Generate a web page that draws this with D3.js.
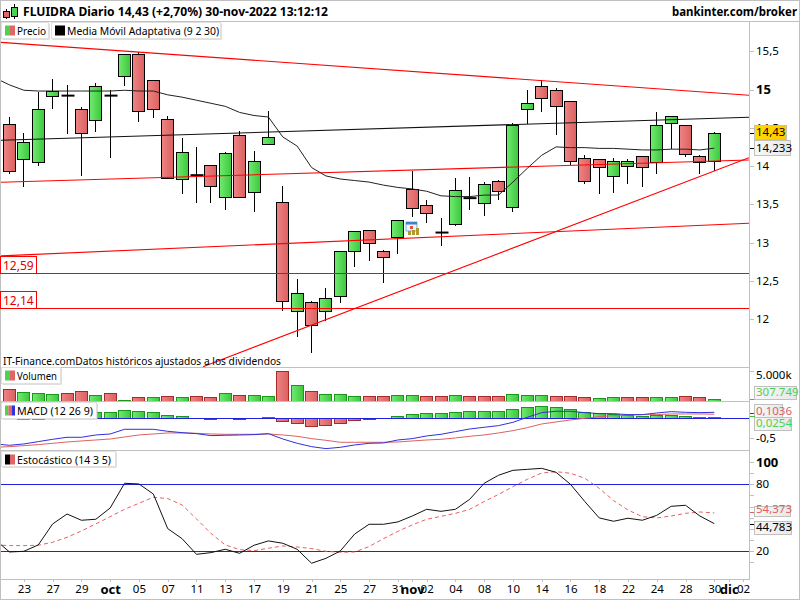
<!DOCTYPE html>
<html>
<head>
<meta charset="utf-8">
<script src="https://cdn.jsdelivr.net/npm/d3@7"></script>
<style>
  body { margin: 0; background: #fff; }
  text { font-family: "Noto Sans", "DejaVu Sans", sans-serif; font-size: 12px; fill: #000; }
  .axis path, .axis line { stroke: #c0c0c0; }
  .axis .domain { display: none; }
</style>
</head>
<body>
<div id="chart"></div>
<script>
// daily candles, one entry per session (22-sep to 30-nov)
const candleOpen = [14.55,14.09,14.06,14.92,14.92,14.75,14.60,14.92,15.17,15.47,15.13,14.61,13.83,13.88,14.01,13.60,14.40,13.66,14.29,13.53,12.10,12.22,12.10,12.30,12.89,13.16,12.89,13.08,13.70,13.49,13.13,13.24,13.58,13.51,13.80,13.46,14.75,15.05,14.99,14.85,14.10,14.09,13.87,14.00,14.13,14.05,14.57,14.53,14.13,14.06];
const candleHigh = [14.64,14.43,14.97,15.14,15.06,14.77,15.08,14.99,15.47,15.49,15.13,14.66,14.36,14.25,14.01,14.18,14.46,14.20,14.72,13.74,12.52,12.24,12.41,12.89,13.15,13.16,12.90,13.30,13.94,13.55,13.32,13.84,13.86,13.79,13.82,14.56,14.99,15.12,15.02,14.85,14.15,14.09,14.11,14.09,14.13,14.70,14.66,14.53,14.14,14.44];
const candleLow = [13.90,13.73,14.00,14.75,14.42,13.87,14.45,14.10,15.05,14.57,14.63,13.84,13.64,13.52,13.52,13.42,13.59,13.40,14.28,12.11,11.76,11.56,11.98,12.21,12.68,12.76,12.47,12.85,13.33,13.26,12.95,13.21,13.43,13.34,13.55,13.40,14.55,14.71,14.41,14.01,13.76,13.64,13.65,13.77,13.72,13.90,14.22,14.12,13.89,13.94];
const candleClose = [13.93,14.31,14.75,14.98,14.92,14.43,15.04,14.92,15.46,14.73,14.75,13.84,14.18,13.88,13.73,14.17,13.59,14.07,14.38,12.24,12.34,11.92,12.27,12.89,13.15,12.99,12.81,13.30,13.45,13.38,13.13,13.68,13.58,13.76,13.67,14.53,14.83,14.89,14.78,14.06,13.80,13.98,14.07,14.06,13.98,14.53,14.66,14.15,14.05,14.43];

// these start one session earlier, just off the left edge
const amaLine = [15.15,15.06,14.99,14.98,14.98,14.98,14.98,14.98,14.98,14.99,14.98,14.98,14.93,14.90,14.86,14.82,14.78,14.70,14.66,14.64,14.38,14.26,13.98,13.87,13.83,13.81,13.79,13.75,13.72,13.70,13.67,13.61,13.60,13.60,13.62,13.62,13.79,13.97,14.14,14.25,14.24,14.24,14.23,14.23,14.22,14.21,14.21,14.22,14.22,14.21,14.233];
const macdLine = [-.651,-.685,-.651,-.592,-.533,-.482,-.482,-.423,-.398,-.279,-.279,-.279,-.330,-.364,-.389,-.440,-.431,-.423,-.415,-.389,-.525,-.635,-.719,-.770,-.736,-.677,-.635,-.626,-.550,-.516,-.448,-.406,-.338,-.271,-.228,-.186,-.102,.025,.144,.178,.178,.144,.118,.118,.093,.093,.135,.169,.152,.144,.152];
const macdSignal = [-.736,-.719,-.694,-.668,-.635,-.601,-.575,-.550,-.525,-.474,-.423,-.398,-.372,-.372,-.381,-.398,-.406,-.406,-.406,-.398,-.423,-.457,-.516,-.558,-.609,-.609,-.609,-.609,-.601,-.575,-.550,-.533,-.499,-.457,-.423,-.372,-.313,-.237,-.144,-.093,-.042,0,.042,.068,.085,.093,.093,.110,.110,.110,.1036];
const stochK = [30.4,19.4,20.0,25.7,44.5,53.4,47.8,48.7,58.8,80.9,80.3,71.3,40.3,31.3,17.3,18.8,21.8,18.2,25.4,29.3,27.2,21.8,9.3,13.7,20.3,35.5,44.2,44.2,46.3,51.6,57.6,55.8,57.6,66.6,80.9,88.1,92.5,93.4,94.3,90.7,80,64.5,49.9,46.9,49.6,47.8,52.2,60.3,61.2,51.6,44.783];
const stochD = [25.7,25.1,25.1,25.4,28.1,32.5,38.2,44.5,51,57.6,63,68.4,67.2,61.5,49,36.1,25.7,21.5,20.6,22.7,24.8,23.9,22.4,20,19.1,19.4,24.2,31.3,37.9,43.6,48.7,51.3,54,57.6,64.5,71,77.9,84.5,90.1,91.3,89.9,85.4,76.4,65.4,57,51,49.9,51.6,54,55.2,54.373];

const volume = [1980,1485,1320,1155,1320,1650,990,1320,165,660,660,825,660,825,660,1320,990,990,825,4950,2640,1650,1155,1155,825,825,825,990,990,825,825,990,825,825,825,1155,990,990,825,825,660,495,660,660,660,660,660,825,660,307.749];
const volumeUp = [0,1,1,1,0,0,1,0,1,0,1,0,1,0,0,1,0,1,1,0,1,0,1,1,1,0,0,1,1,0,0,1,0,0,0,1,1,1,0,0,0,1,1,0,0,1,1,0,0,1];
const macdHist = [.10,.12,.14,.15,.16,.16,.15,.152,.203,.178,.152,.076,.051,.005,-.034,.005,-.034,.005,.025,-.085,-.127,-.212,-.186,-.127,-.059,-.034,-.01,.051,.102,.127,.127,.152,.178,.178,.178,.228,.279,.305,.279,.228,.152,.127,.102,.076,.051,.076,.076,.051,.025,.0254];

// trend lines as [session, price] pairs
const trendUpperRed = [[-0.66,15.617],[51.41,14.924]];
const trendBlack = [[-0.66,14.336],[51.41,14.637]];
const trendMiddleRed = [[-0.66,13.787],[51.41,14.078]];
const trendLowerRed = [[-0.66,12.824],[51.41,13.251]];
const trendRising = [[13.45,11.376],[51.41,14.109]];
const supportLevels = [12.59, 12.14];

const priceTicks = [15.5,15,14.5,14,13.5,13,12.5,12];
const stochTicks = [100,90,80,70,60,50,40,30,20,10];
const stochLabels = [100,80,20];
const dateTicks = [1,3,5,7,9,11,13,15,17,19,21,23,25,27,28,29,31,33,35,37,39,41,43,45,47,49,50,51];
const dateLabels = ["23","27","29","oct","05","07","11","13","17","19","21","25","27","31","nov","02","04","08","10","14","16","18","22","24","28","30","dic","02"];

const width = 800, height = 600;
const plotRight = 749;
const comma = (v) => String(v).replace(".", ",");

const svg = d3.select("#chart").append("svg").attr("width", width).attr("height", height);
const defs = svg.append("defs");

function addGradient(id, from, to) {
  const g = defs.append("linearGradient").attr("id", id);
  g.append("stop").attr("offset", "0%").attr("stop-color", from);
  g.append("stop").attr("offset", "100%").attr("stop-color", to);
}
addGradient("upFill", "#72ea72", "#3cc83c");
addGradient("downFill", "#ee8484", "#dc6060");
addGradient("goldFill", "#ffdc00", "#ffc800");
addGradient("greyFill", "#f8f8f8", "#e8e8e8");

function addClip(id, top, bottom) {
  defs.append("clipPath").attr("id", id).append("rect")
    .attr("x", 1).attr("y", top).attr("width", plotRight - 1).attr("height", bottom - top);
}
addClip("clipPrice", 21, 367);
addClip("clipVolume", 367, 401);
addClip("clipMacd", 401, 450);
addClip("clipStoch", 450, 579);

const x = d3.scaleLinear().domain([0, 49]).range([9.5, 714.3]);
const y = d3.scaleLinear().domain([12, 15.5]).range([319, 51.25]);
const yVol = d3.scaleLinear().domain([0, 5000]).range([401, 370.7]);
const yMacd = d3.scaleLinear().domain([0, -0.5]).range([418.3, 438]);
const yStoch = d3.scaleLinear().domain([20, 80]).range([551.3, 484.3]);
const barW = 12;

// squeeze a text to the width it has in the chart
function fitText(sel, len) {
  return sel.attr("textLength", len).attr("lengthAdjust", "spacingAndGlyphs");
}

/* ========== FRAME ========== */

function hline(y0, x0, x1) {
  svg.append("line").attr("x1", x0).attr("x2", x1).attr("y1", y0).attr("y2", y0)
    .attr("stroke", "#c0c0c0").attr("shape-rendering", "crispEdges");
}
hline(0.5, 0, 800);
hline(21.5, 0, 800);
hline(367.5, 0, plotRight);
hline(401.5, 0, plotRight);
hline(450.5, 0, plotRight);
hline(579.5, 0, plotRight);
hline(599.5, 0, 800);
svg.append("line").attr("x1", plotRight + .5).attr("x2", plotRight + .5).attr("y1", 21).attr("y2", 580)
  .attr("stroke", "#c0c0c0").attr("shape-rendering", "crispEdges");
svg.append("line").attr("x1", .5).attr("x2", .5).attr("y1", 0).attr("y2", 600)
  .attr("stroke", "#c0c0c0").attr("shape-rendering", "crispEdges");
svg.append("line").attr("x1", 799.5).attr("x2", 799.5).attr("y1", 0).attr("y2", 600)
  .attr("stroke", "#c0c0c0").attr("shape-rendering", "crispEdges");

/* ========== PRICE PANE ========== */

const pricePane = svg.append("g").attr("clip-path", "url(#clipPrice)");
const candles = d3.range(candleOpen.length).map((i) => ({
  i, o: candleOpen[i], h: candleHigh[i], l: candleLow[i], c: candleClose[i],
}));
const px = (d) => Math.round(x(d.i) - 0.5) + 0.5;

pricePane.selectAll("line.wick").data(candles).enter().append("line")
  .attr("class", "wick")
  .attr("x1", px).attr("x2", px)
  .attr("y1", (d) => y(d.h)).attr("y2", (d) => y(d.l))
  .attr("stroke", "#000").attr("shape-rendering", "crispEdges");

pricePane.selectAll("rect.body").data(candles.filter((d) => d.o !== d.c)).enter().append("rect")
  .attr("class", "body")
  .attr("x", (d) => px(d) - barW / 2)
  .attr("y", (d) => Math.round(y(Math.max(d.o, d.c))) + .5)
  .attr("width", barW)
  .attr("height", (d) => Math.round(Math.abs(y(d.o) - y(d.c))))
  .attr("fill", (d) => d.c > d.o ? "url(#upFill)" : "url(#downFill)")
  .attr("stroke", "#000").attr("shape-rendering", "crispEdges");

// sessions that closed where they opened get a flat thick bar
pricePane.selectAll("line.doji").data(candles.filter((d) => d.o === d.c)).enter().append("line")
  .attr("class", "doji")
  .attr("x1", (d) => px(d) - barW / 2).attr("x2", (d) => px(d) + barW / 2 + 1)
  .attr("y1", (d) => y(d.o)).attr("y2", (d) => y(d.o))
  .attr("stroke", "#000").attr("stroke-width", 2);

const priceLine = d3.line().x((d) => x(d[0])).y((d) => y(d[1]));
[trendUpperRed, trendMiddleRed, trendLowerRed, trendRising].forEach((t) => {
  pricePane.append("path").attr("d", priceLine(t)).attr("fill", "none").attr("stroke", "#f00").attr("stroke-width", 1.1);
});
pricePane.append("path").attr("d", priceLine(trendBlack)).attr("fill", "none").attr("stroke", "#111").attr("stroke-width", 1.1);

supportLevels.forEach((lv, n) => {
  const yy = Math.round(y(lv)) + .5 - (n === 0 ? 1 : 0);
  pricePane.append("line").attr("x1", 0).attr("x2", plotRight).attr("y1", yy).attr("y2", yy)
    .attr("stroke", n === 0 ? "#e01010" : "#f00").attr("shape-rendering", "crispEdges");
  svg.append("rect").attr("x", .5).attr("y", yy - 17).attr("width", 36).attr("height", 17)
    .attr("fill", "#fff").attr("stroke", "#f00").attr("shape-rendering", "crispEdges");
  svg.append("text").attr("x", 3).attr("y", yy - 4).style("fill", "#e00000").text(comma(lv));
});

pricePane.append("path")
  .attr("d", d3.line().x((d, i) => x(i - 1)).y((d) => y(d))(amaLine))
  .attr("fill", "none").attr("stroke", "#222").attr("stroke-width", 1);

// little calendar marker sitting at the start of november
const cal = svg.append("g").attr("transform", "translate(406,222)");
cal.append("rect").attr("width", 11).attr("height", 9).attr("fill", "#eef4fa").attr("stroke", "#6a9ccc").attr("stroke-width", .8);
cal.append("rect").attr("width", 11).attr("height", 2.5).attr("fill", "#3c82c8");
cal.append("rect").attr("x", 4).attr("y", 4).attr("width", 3).attr("height", 3).attr("fill", "#e05050");
cal.append("rect").attr("x", 2).attr("y", 9).attr("width", 3).attr("height", 4).attr("fill", "#b09a30");
cal.append("rect").attr("x", 6).attr("y", 8).attr("width", 3).attr("height", 5).attr("fill", "#b09a30");
cal.append("rect").attr("x", 10).attr("y", 6).attr("width", 3).attr("height", 7).attr("fill", "#b09a30");

fitText(svg.append("text").attr("x", 3).attr("y", 365).style("font-size", "11.5px")
  .text("IT-Finance.comDatos históricos ajustados a los dividendos"), 278);

/* ========== VOLUME ========== */

const volPane = svg.append("g").attr("clip-path", "url(#clipVolume)");
volPane.selectAll("rect").data(volume).enter().append("rect")
  .attr("x", (d, i) => Math.round(x(i) - 0.5) + .5 - barW / 2)
  .attr("y", (d) => Math.round(yVol(d)) + .5)
  .attr("width", barW)
  .attr("height", (d) => 401 - Math.round(yVol(d)))
  .attr("fill", (d, i) => volumeUp[i] ? "url(#upFill)" : "url(#downFill)")
  .attr("stroke", (d, i) => volumeUp[i] ? "#1a961a" : "#a52a2a")
  .attr("shape-rendering", "crispEdges");

/* ========== MACD ========== */

const macdPane = svg.append("g").attr("clip-path", "url(#clipMacd)");
macdPane.selectAll("rect").data(macdHist).enter().append("rect")
  .attr("x", (d, i) => Math.round(x(i) - 0.5) + .5 - barW / 2)
  .attr("y", (d) => Math.round(Math.min(yMacd(d), yMacd(0))) + .5)
  .attr("width", barW)
  .attr("height", (d) => Math.round(Math.abs(yMacd(d) - yMacd(0))))
  .attr("fill", (d) => d >= 0 ? "url(#upFill)" : "url(#downFill)")
  .attr("stroke", (d) => d >= 0 ? "#1a961a" : "#a52a2a")
  .attr("shape-rendering", "crispEdges");
macdPane.append("line").attr("x1", 0).attr("x2", plotRight).attr("y1", 418.5).attr("y2", 418.5)
  .attr("stroke", "#2020e0").attr("shape-rendering", "crispEdges");
const macdPath = d3.line().x((d, i) => x(i - 1)).y((d) => yMacd(d));
macdPane.append("path").attr("d", macdPath(macdSignal)).attr("fill", "none").attr("stroke", "#e06060");
macdPane.append("path").attr("d", macdPath(macdLine)).attr("fill", "none").attr("stroke", "#3030e0");

/* ========== STOCHASTIC ========== */

const stochPane = svg.append("g").attr("clip-path", "url(#clipStoch)");
[80, 20].forEach((lv) => {
  const yy = Math.round(yStoch(lv)) + .5;
  stochPane.append("line").attr("x1", 0).attr("x2", plotRight).attr("y1", yy).attr("y2", yy)
    .attr("stroke", "#2020e0").attr("shape-rendering", "crispEdges");
});
const stochPath = d3.line().x((d, i) => x(i - 1)).y((d) => yStoch(d));
stochPane.append("path").attr("d", stochPath(stochD)).attr("fill", "none")
  .attr("stroke", "#e86060").attr("stroke-dasharray", "4 3");
stochPane.append("path").attr("d", stochPath(stochK)).attr("fill", "none").attr("stroke", "#111");

/* ========== AXES ========== */

function rightAxis(scale, ticks, fmt) {
  const g = svg.append("g").attr("class", "axis")
    .attr("transform", `translate(${plotRight},0)`)
    .call(d3.axisRight(scale).tickValues(ticks).tickFormat(fmt).tickSize(5).tickPadding(2));
  g.selectAll("line").attr("shape-rendering", "crispEdges");
  g.selectAll("text").style("font-size", "11.5px");
  return g;
}

const priceAxis = rightAxis(y, priceTicks, (d) => comma(d));
priceAxis.selectAll("text").filter((d) => d === 15).style("font-weight", "bold").style("font-size", "13px");
rightAxis(yVol, [5000], () => "5.000k").selectAll("text").attr("y", 4);
rightAxis(yMacd, [-0.5], (d) => comma(d));
const stochAxis = rightAxis(yStoch, stochTicks, (d) => stochLabels.includes(d) ? d : "");
stochAxis.selectAll("text").filter((d) => d === 100).style("font-weight", "bold").style("font-size", "13px");

const dateAxis = svg.append("g").attr("class", "axis")
  .attr("transform", "translate(0,579)")
  .call(d3.axisBottom(x).tickValues(dateTicks).tickFormat((d) => dateLabels[dateTicks.indexOf(d)]).tickSize(3).tickPadding(3));
dateAxis.selectAll("line").attr("shape-rendering", "crispEdges");
dateAxis.selectAll("text").style("font-size", "11.5px")
  .filter((d) => [7, 28, 50].includes(d)).style("font-weight", "bold").style("font-size", "13px");

/* ========== VALUE FLAGS ========== */

function valueFlag(top, w, h, txt, colour, fill, tickY, tickColour) {
  if (tickY !== undefined) {
    svg.append("line").attr("x1", plotRight + 1).attr("x2", plotRight + 6).attr("y1", tickY).attr("y2", tickY)
      .attr("stroke", tickColour).attr("shape-rendering", "crispEdges");
  }
  svg.append("rect").attr("x", 754.5).attr("y", top + .5).attr("width", w).attr("height", h)
    .attr("fill", fill).attr("stroke", "#c0c0c0").attr("shape-rendering", "crispEdges");
  svg.append("text").attr("x", 756).attr("y", top + h - 3).style("font-size", "11.5px").style("fill", colour).text(txt);
}
valueFlag(125, 32, 14, "14,43", "#000", "url(#goldFill)", 133, "#000");
valueFlag(140, 36, 15, "14,233", "#000", "url(#greyFill)", 148, "#000");
valueFlag(386, 42, 13, "307.749", "#50d050", "url(#greyFill)", 399, "#40c040");
valueFlag(404, 28, 14, "0,1036", "#e06060", "url(#greyFill)", 413, "#3030e0");
valueFlag(417, 37, 13, "0,0254", "#50d050", "url(#greyFill)", 416, "#40c040");
valueFlag(506, 36, 10, "54,373", "#e06060", "url(#greyFill)", 512, "#e06060");
valueFlag(521, 37, 13, "44,783", "#000", "url(#greyFill)", 524, "#000");

/* ========== LEGENDS AND HEADER ========== */

function legend(left, top, w, h, swatches, label, labelW) {
  svg.append("rect").attr("x", left + 1).attr("y", top + 1).attr("width", w).attr("height", h).attr("fill", "#c0c0c0");
  svg.append("rect").attr("x", left).attr("y", top).attr("width", w).attr("height", h).attr("fill", "#fff")
    .attr("stroke", "#e0e0e0").attr("shape-rendering", "crispEdges");
  const sw = 10 / swatches.length;
  swatches.forEach((c, n) => {
    svg.append("rect").attr("x", left + 3.5 + n * sw).attr("y", top + 3).attr("width", sw).attr("height", 10).attr("fill", c);
  });
  fitText(svg.append("text").attr("x", left + 15.5).attr("y", top + 12).style("font-size", "11.5px").text(label), labelW);
}
legend(1.5, 22.5, 47, 16, ["#50d050", "#e06666"], "Precio", 29);
legend(51.5, 22.5, 169, 16, ["#000", "#000"], "Media Móvil Adaptativa (9 2 30)", 152);
legend(1.5, 367.5, 59, 16, ["#50d050", "#e06666"], "Volumen", 40);
legend(1.5, 402.5, 95, 16, ["#50d050", "#e06666", "#3030e0"], "MACD (12 26 9)", 76);
legend(1.5, 451.5, 114, 15, ["#000", "#e06666"], "Estocástico (14 3 5)", 94);

// window icon, one red and one green candle
const icon = svg.append("g");
icon.append("line").attr("x1", 6.5).attr("x2", 6.5).attr("y1", 9).attr("y2", 19).attr("stroke", "#000");
icon.append("rect").attr("x", 3.5).attr("y", 11.5).attr("width", 6).attr("height", 6).attr("fill", "#e06666").attr("stroke", "#000");
icon.append("line").attr("x1", 14.5).attr("x2", 14.5).attr("y1", 4).attr("y2", 19).attr("stroke", "#000");
icon.append("rect").attr("x", 11.5).attr("y", 7.5).attr("width", 6).attr("height", 9).attr("fill", "#50d050").attr("stroke", "#000");

fitText(svg.append("text").attr("x", 23).attr("y", 16).style("font-weight", "bold").style("font-size", "12.5px")
  .text("FLUIDRA Diario 14,43 (+2,70%) 30-nov-2022 13:12:12"), 305);
fitText(svg.append("text").attr("x", 672).attr("y", 16).style("font-weight", "bold").style("font-size", "12.5px")
  .text("bankinter.com/broker"), 125);
</script>
</body>
</html>
